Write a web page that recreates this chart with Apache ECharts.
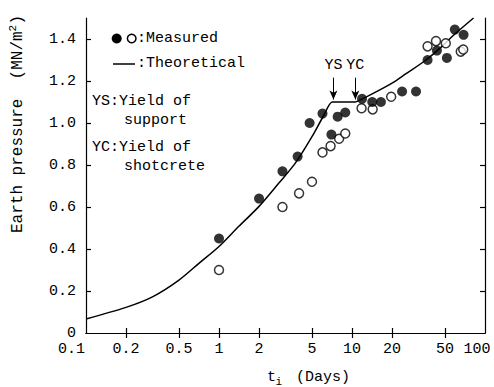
<!DOCTYPE html>
<html>
<head>
<meta charset="utf-8">
<title>Earth pressure vs time</title>
<script src="https://cdn.jsdelivr.net/npm/echarts@6/dist/echarts.min.js"></script>
<style>
  html, body { margin: 0; padding: 0; background: #fff; }
  #chart { width: 494px; height: 387px; }
</style>
</head>
<body>
<div id="chart"></div>
<script>
// tick values and their labels
var xTickValues = [0.1, 0.2, 0.5, 1, 2, 5, 10, 20, 50, 100];
var xTickLabels = ['0.1', '0.2', '0.5', '1', '2', '5', '10', '20', '50', '100'];
var yTickValues = [0, 0.2, 0.4, 0.6, 0.8, 1.0, 1.2, 1.4];
var yTickLabels = ['0', '0.2', '0.4', '0.6', '0.8', '1.0', '1.2', '1.4'];

// measured, filled circles (t days, pressure MN/m2)
var filledT = [1, 2, 3, 3.9, 4.8, 6, 7, 7.8, 8.9, 11.9, 14.2, 16.5, 23.8, 30.3, 37, 43.5, 51.7, 59.3, 69];
var filledP = [0.45, 0.64, 0.77, 0.84, 1.0, 1.045, 0.945, 1.03, 1.05, 1.115, 1.10, 1.10, 1.15, 1.15, 1.30, 1.345, 1.31, 1.445, 1.42];

// measured, open circles
var openT = [1, 3, 4, 5, 6, 6.9, 8, 8.9, 11.8, 14.3, 19.7, 37, 42.8, 50.7, 65.7, 68.6];
var openP = [0.30, 0.60, 0.665, 0.72, 0.86, 0.89, 0.925, 0.95, 1.07, 1.065, 1.125, 1.365, 1.39, 1.38, 1.34, 1.35];

// theoretical curve (plateau between YS and YC)
var theoT = [0.1, 0.2, 0.316, 0.5, 0.71, 1, 1.41, 2, 2.82, 3.76, 5, 6, 7.1, 7.15, 10.6, 10.7, 14.3, 20, 25.5, 36, 47.5, 58.5, 82];
var theoP = [0.067, 0.122, 0.172, 0.252, 0.333, 0.412, 0.508, 0.603, 0.714, 0.81, 0.935, 1.025, 1.10, 1.10, 1.10, 1.10, 1.14, 1.19, 1.235, 1.30, 1.365, 1.42, 1.5];

// yield markers
var ysT = 7.25, ycT = 10.6;

var FONT = 'Liberation Mono';

function pairs(xs, ys) {
  var out = [];
  for (var i = 0; i < xs.length; i++) out.push([xs[i], ys[i]]);
  return out;
}

function xLabel(v) {
  for (var i = 0; i < xTickValues.length; i++) {
    if (Math.abs(v - xTickValues[i]) < xTickValues[i] * 1e-6) {
      if (i === 0) return '{first|' + xTickLabels[i] + '}';
      if (i === xTickValues.length - 1) return '{last|' + xTickLabels[i] + '}';
      return xTickLabels[i];
    }
  }
  return '';
}

function yLabel(v) {
  for (var i = 0; i < yTickValues.length; i++) {
    if (Math.abs(v - yTickValues[i]) < 1e-6) return yTickLabels[i];
  }
  return '';
}

var chart = echarts.init(document.getElementById('chart'), null, { renderer: 'svg' });

var axisLine = { show: true, lineStyle: { color: '#000', width: 1.2 } };

var option = {
  animation: false,
  textStyle: { fontFamily: FONT, color: '#000' },
  grid: { left: 86, right: 9, top: 18, bottom: 54 },
  xAxis: [
    {
      type: 'log',
      logBase: 10,
      min: 0.1,
      max: 100,
      position: 'bottom',
      axisLine: axisLine,
      splitLine: { show: false },
      axisTick: { show: true, inside: true, length: 5, customValues: xTickValues.slice(1, -1), lineStyle: { color: '#000', width: 1.2 } },
      axisLabel: {
        customValues: xTickValues,
        formatter: xLabel,
        margin: 9,
        fontSize: 15,
        fontFamily: FONT,
        color: '#000',
        rich: {
          first: { fontSize: 15, fontFamily: FONT, color: '#000', padding: [0, 29, 0, 0] },
          last: { fontSize: 15, fontFamily: FONT, color: '#000', padding: [0, 16, 0, 0] }
        }
      }
    },
    {
      type: 'log',
      logBase: 10,
      min: 0.1,
      max: 100,
      position: 'top',
      axisLine: axisLine,
      splitLine: { show: false },
      axisTick: { show: true, inside: true, length: 5, customValues: xTickValues.slice(1, -1), lineStyle: { color: '#000', width: 1.2 } },
      axisLabel: { show: false }
    }
  ],
  yAxis: [
    {
      type: 'value',
      min: 0,
      max: 1.5,
      position: 'left',
      axisLine: axisLine,
      splitLine: { show: false },
      axisTick: { show: true, inside: true, length: 5, customValues: yTickValues.slice(1), lineStyle: { color: '#000', width: 1.2 } },
      axisLabel: { customValues: yTickValues, formatter: yLabel, margin: 10, fontSize: 15, fontFamily: FONT, color: '#000' }
    },
    {
      type: 'value',
      min: 0,
      max: 1.5,
      position: 'right',
      axisLine: axisLine,
      splitLine: { show: false },
      axisTick: { show: true, inside: true, length: 5, customValues: yTickValues.slice(1), lineStyle: { color: '#000', width: 1.2 } },
      axisLabel: { show: false }
    }
  ],
  series: [
    {
      name: 'Theoretical',
      type: 'line',
      data: pairs(theoT, theoP),
      showSymbol: false,
      symbol: 'none',
      smooth: 0.3,
      lineStyle: { color: '#000', width: 1.5 },
      clip: true,
      z: 1,
      markLine: {
        silent: true,
        symbol: ['none', 'arrow'],
        lineStyle: { color: '#000', width: 1, type: 'solid' },
        label: { show: true, position: 'start', distance: 5, color: '#000', fontSize: 15, fontFamily: FONT },
        data: [
          [
            { coord: [ysT, 1.216], name: 'YS', label: { formatter: 'YS' } },
            { coord: [ysT, 1.112], symbol: 'arrow', symbolSize: [6, 9] }
          ],
          [
            { coord: [ycT, 1.216], name: 'YC', label: { formatter: 'YC' } },
            { coord: [ycT, 1.112], symbol: 'arrow', symbolSize: [6, 9] }
          ]
        ]
      }
    },
    {
      name: 'Measured (filled)',
      type: 'scatter',
      data: pairs(filledT, filledP),
      symbol: 'circle',
      symbolSize: 10,
      itemStyle: { color: '#000' },
      z: 3
    },
    {
      name: 'Measured (open)',
      type: 'scatter',
      data: pairs(openT, openP),
      symbol: 'circle',
      symbolSize: 9,
      itemStyle: { color: '#fff', borderColor: '#000', borderWidth: 1.5 },
      z: 2
    }
  ],
  graphic: [
    // legend inside the plot
    { type: 'circle', shape: { cx: 116.7, cy: 38.5, r: 5 }, style: { fill: '#000' } },
    { type: 'circle', shape: { cx: 131.7, cy: 38.5, r: 4.3 }, style: { fill: '#fff', stroke: '#000', lineWidth: 1.5 } },
    { type: 'text', x: 137, y: 38.5, style: { text: ':Measured', font: '15px ' + FONT, fill: '#000', verticalAlign: 'middle' } },
    { type: 'line', shape: { x1: 113, y1: 64, x2: 135, y2: 64 }, style: { stroke: '#000', lineWidth: 1.5 } },
    { type: 'text', x: 137, y: 63.5, style: { text: ':Theoretical', font: '15px ' + FONT, fill: '#000', verticalAlign: 'middle' } },
    { type: 'text', x: 92, y: 101, style: { text: 'YS:Yield of', font: '15px ' + FONT, fill: '#000', verticalAlign: 'middle' } },
    { type: 'text', x: 124, y: 120, style: { text: 'support', font: '15px ' + FONT, fill: '#000', verticalAlign: 'middle' } },
    { type: 'text', x: 92, y: 147.5, style: { text: 'YC:Yield of', font: '15px ' + FONT, fill: '#000', verticalAlign: 'middle' } },
    { type: 'text', x: 124, y: 166.5, style: { text: 'shotcrete', font: '15px ' + FONT, fill: '#000', verticalAlign: 'middle' } },
    // x axis title
    { type: 'text', x: 267, y: 377, style: { text: 't', font: '15px ' + FONT, fill: '#000', verticalAlign: 'middle' } },
    { type: 'text', x: 275.5, y: 382, style: { text: 'i', font: '11px ' + FONT, fill: '#000', verticalAlign: 'middle' } },
    { type: 'text', x: 296, y: 377, style: { text: '(Days)', font: '15px ' + FONT, fill: '#000', verticalAlign: 'middle' } },
    // y axis title, rotated
    {
      type: 'group',
      x: 18,
      y: 233,
      rotation: Math.PI / 2,
      children: [
        { type: 'text', x: 0, y: 0, style: { text: 'Earth pressure  (MN/m', font: '16px ' + FONT, fill: '#000', verticalAlign: 'middle' } },
        { type: 'text', x: 201.6, y: -5, style: { text: '2', font: '11px ' + FONT, fill: '#000', verticalAlign: 'middle' } },
        { type: 'text', x: 208.6, y: 0, style: { text: ')', font: '16px ' + FONT, fill: '#000', verticalAlign: 'middle' } }
      ]
    }
  ]
};

chart.setOption(option);
</script>
</body>
</html>
